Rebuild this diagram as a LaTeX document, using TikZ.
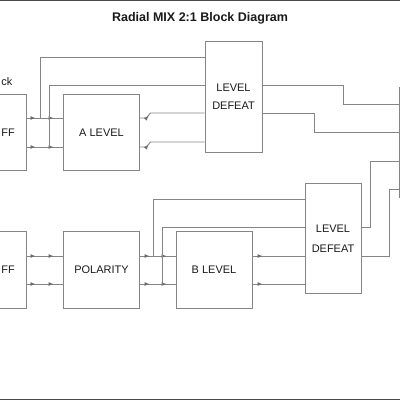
\documentclass[tikz,border=0pt]{standalone}
\usepackage{fontspec}
\setmainfont{Liberation Sans}
\usetikzlibrary{arrows.meta,decorations.markings}
\definecolor{linegray}{HTML}{858585}
\definecolor{textgray}{HTML}{1A1A1A}
\definecolor{framegray}{HTML}{4A4A4A}

\begin{document}
\begin{tikzpicture}[x=0.025cm,y=-0.025cm]
                        \tikzstyle{block}=[draw=linegray, line width=0.7pt, inner sep=0pt, text=textgray, align=center, font=\fontsize{7.8}{12.8}\selectfont]
                        \tikzstyle{sig}=[draw=linegray, line width=0.7pt]
                        \tikzset{tip at/.style={postaction={decorate, decoration={markings, mark=at position #1 with {\arrow{Latex[length=3.4pt,width=3pt,color=linegray!80!black]}}}}}}
                        \clip (0,0) rectangle (400,400);
                        % page edges
                        \draw[framegray, line width=0.85pt] (0,0.6) -- (400,0.6);
                        \draw[framegray, line width=0.85pt] (0,399.3) -- (400,399.3);
                        \node[font=\bfseries\fontsize{8.9}{10}\selectfont, text=textgray] (title) at (200,18) {Radial MIX 2:1 Block Diagram};
                        \node[anchor=west, inner sep=0pt, text=textgray, font=\fontsize{7.8}{9}\selectfont] (jack) at (1,82) {ck};
                        % blocks
                        \node[block, minimum width=0.9cm, minimum height=1.875cm] (offA) at (8,132.5) {FF};
                        \node[block, minimum width=1.875cm, minimum height=1.875cm] (lvlA) at (101.5,132.5) {A LEVEL};
                        \node[block, minimum width=1.425cm, minimum height=2.75cm] (defA) at (233.5,97) {LEVEL\\DEFEAT};
                        \node[block, minimum width=1.05cm, minimum height=2.725cm] (mix) at (420,142.5) {};
                        \node[block, minimum width=0.9cm, minimum height=1.9cm] (offB) at (8,270) {FF};
                        \node[block, minimum width=1.875cm, minimum height=1.9cm] (pol) at (101.5,270) {POLARITY};
                        \node[block, minimum width=1.9cm, minimum height=1.9cm] (lvlB) at (214,270) {B LEVEL};
                        \node[block, minimum width=1.4cm, minimum height=2.725cm] (defB) at (333,238.5) {\raisebox{-0.15cm}{\begin{tabular}{@{}c@{}}LEVEL\\[1.3pt]DEFEAT\end{tabular}}};
                        % signal rows
                        \coordinate (r1) at (0,118);
                        \coordinate (r2) at (0,147);
                        \coordinate (t1) at (0,57);
                        \coordinate (t2) at (0,85);
                        \coordinate (t3) at (0,113);
                        \coordinate (t4) at (0,142);
                        \coordinate (s1) at (0,256);
                        \coordinate (s2) at (0,284);
                        \coordinate (u1) at (0,199);
                        \coordinate (u2) at (0,227);
                        \coordinate (m1) at (0,104);
                        \coordinate (m2) at (0,132);
                        \coordinate (m3) at (0,161);
                        \coordinate (m4) at (0,189);
                        \coordinate (k1) at (343,0);
                        \coordinate (k2) at (314,0);
                        \coordinate (k3) at (370,0);
                        \coordinate (k4) at (389,0);
                        \coordinate (jA1) at (40,118);
                        \coordinate (jA2) at (49,147);
                        \coordinate (jB1) at (153,256);
                        \coordinate (jB2) at (162,284);
                        % channel A
                        \draw[sig, tip at=0.22cm, tip at=0.67cm] (offA.east |- r1) -- (lvlA.west |- r1);
                        \draw[sig, tip at=0.22cm, tip at=0.67cm] (offA.east |- r2) -- (lvlA.west |- r2);
                        \draw[sig] (jA1) |- (defA.west |- t1);
                        \draw[sig] (jA2) |- (defA.west |- t2);
                        \draw[sig, tip at=0.25cm] (lvlA.east |- r1) -- ++(7,0) -- ++(4,-5) -- (defA.west |- t3);
                        \draw[sig, tip at=0.25cm] (lvlA.east |- r2) -- ++(7,0) -- ++(4,-5) -- (defA.west |- t4);
                        \draw[sig] (defA.east |- t2) -| (k1 |- m1) -- (mix.west |- m1);
                        \draw[sig] (defA.east |- t3) -| (k2 |- m2) -- (mix.west |- m2);
                        % channel B
                        \draw[sig, tip at=0.22cm, tip at=0.67cm] (offB.east |- s1) -- (pol.west |- s1);
                        \draw[sig, tip at=0.22cm, tip at=0.67cm] (offB.east |- s2) -- (pol.west |- s2);
                        \draw[sig, tip at=0.245cm, tip at=0.67cm] (pol.east |- s1) -- (lvlB.west |- s1);
                        \draw[sig, tip at=0.245cm, tip at=0.67cm] (pol.east |- s2) -- (lvlB.west |- s2);
                        \draw[sig] (jB1) |- (defB.west |- u1);
                        \draw[sig] (jB2) |- (defB.west |- u2);
                        \draw[sig, tip at=0.245cm] (lvlB.east |- s1) -- (defB.west |- s1);
                        \draw[sig, tip at=0.245cm] (lvlB.east |- s2) -- (defB.west |- s2);
                        \draw[sig] (defB.east |- u2) -| (k3 |- m3) -- (mix.west |- m3);
                        \draw[sig] (defB.east |- s1) -| (k4 |- m4) -- (mix.west |- m4);
                    \end{tikzpicture}
\end{document}
